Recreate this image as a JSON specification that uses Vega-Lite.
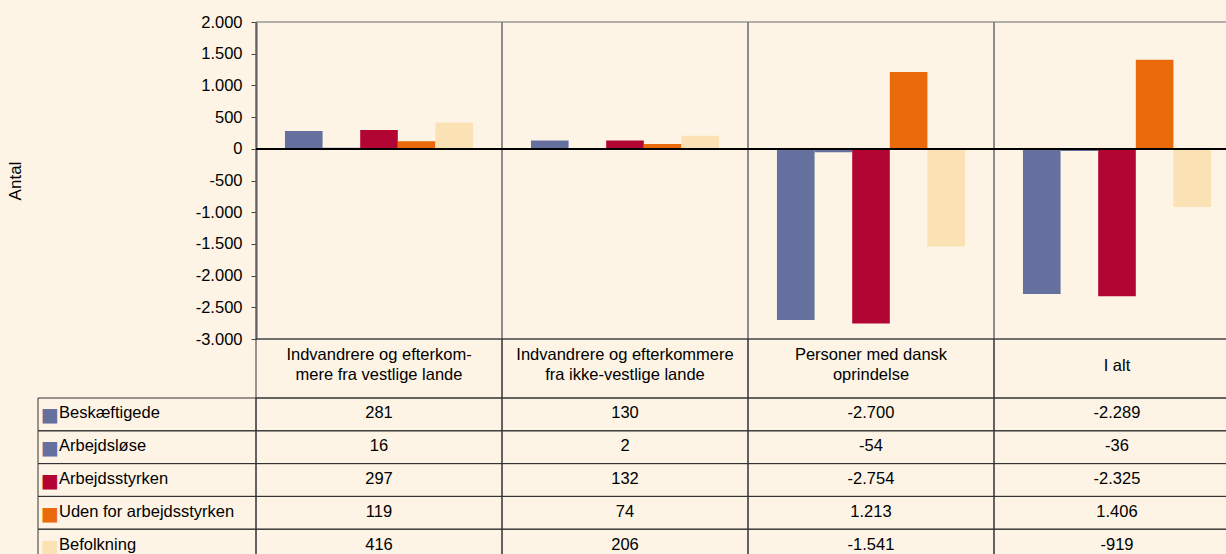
{
  "$schema": "https://vega.github.io/schema/vega-lite/v6.json",
  "autosize": {"type": "none"},
  "padding": {"left": 256, "top": 22, "right": 0, "bottom": 0},
  "width": 970,
  "height": 532,
  "background": "#FDF4E6",
  "config": {
    "view": {"stroke": null},
    "font": "Liberation Sans",
    "locale": {"number": {"decimal": ",", "thousands": ".", "grouping": [3], "currency": ["", " kr."], "minus": "-"}}
  },
  "datasets": {
    "values": [
      {"cat": "Vestlige", "series": "Beskæftigede", "value": 281},
      {"cat": "Vestlige", "series": "Arbejdsløse", "value": 16},
      {"cat": "Vestlige", "series": "Arbejdsstyrken", "value": 297},
      {"cat": "Vestlige", "series": "Uden for arbejdsstyrken", "value": 119},
      {"cat": "Vestlige", "series": "Befolkning", "value": 416},
      {"cat": "Ikke-vestlige", "series": "Beskæftigede", "value": 130},
      {"cat": "Ikke-vestlige", "series": "Arbejdsløse", "value": 2},
      {"cat": "Ikke-vestlige", "series": "Arbejdsstyrken", "value": 132},
      {"cat": "Ikke-vestlige", "series": "Uden for arbejdsstyrken", "value": 74},
      {"cat": "Ikke-vestlige", "series": "Befolkning", "value": 206},
      {"cat": "Dansk", "series": "Beskæftigede", "value": -2700},
      {"cat": "Dansk", "series": "Arbejdsløse", "value": -54},
      {"cat": "Dansk", "series": "Arbejdsstyrken", "value": -2754},
      {"cat": "Dansk", "series": "Uden for arbejdsstyrken", "value": 1213},
      {"cat": "Dansk", "series": "Befolkning", "value": -1541},
      {"cat": "I alt", "series": "Beskæftigede", "value": -2289},
      {"cat": "I alt", "series": "Arbejdsløse", "value": -36},
      {"cat": "I alt", "series": "Arbejdsstyrken", "value": -2325},
      {"cat": "I alt", "series": "Uden for arbejdsstyrken", "value": 1406},
      {"cat": "I alt", "series": "Befolkning", "value": -919}
    ],
    "cats": [
      {"cat": "Vestlige", "label": "Indvandrere og efterkom-\nmere fra vestlige lande", "lines": 2},
      {"cat": "Ikke-vestlige", "label": "Indvandrere og efterkommere\nfra ikke-vestlige lande", "lines": 2},
      {"cat": "Dansk", "label": "Personer med dansk\noprindelse", "lines": 2},
      {"cat": "I alt", "label": "I alt", "lines": 1}
    ],
    "series": [
      {"series": "Beskæftigede"},
      {"series": "Arbejdsløse"},
      {"series": "Arbejdsstyrken"},
      {"series": "Uden for arbejdsstyrken"},
      {"series": "Befolkning"}
    ]
  },
  "layer": [
    {
      "data": {"name": "values"},
      "layer": [
        {
          "data": {"name": "cats"},
          "mark": {"type": "rect", "fillOpacity": 0, "stroke": "#6b6b6b", "strokeWidth": 1},
          "encoding": {
            "x": {"field": "cat", "type": "nominal", "scale": {"domain": ["Vestlige", "Ikke-vestlige", "Dansk", "I alt"], "range": [0, 984], "paddingInner": 0, "paddingOuter": 0}, "axis": null},
            "y": {"datum": 2000, "type": "quantitative", "scale": {"domain": [-3000, 2000], "range": [317, 0], "nice": false, "zero": false},
              "axis": {"values": [-3000, -2500, -2000, -1500, -1000, -500, 0, 500, 1000, 1500, 2000], "format": ",.0f", "grid": false, "tickSize": 5, "tickColor": "#444", "labelPadding": 9, "labelFontSize": 16.5, "labelColor": "#000", "domainColor": "#555", "domainWidth": 2, "title": "Antal", "titleFontSize": 17, "titleFontWeight": "normal", "titleColor": "#000", "titleX": -232}},
            "y2": {"datum": -3000}
          }
        },
        {
          "mark": {"type": "bar"},
          "encoding": {
            "x": {"field": "cat", "type": "nominal", "scale": {"domain": ["Vestlige", "Ikke-vestlige", "Dansk", "I alt"], "range": [0, 984], "paddingInner": 0, "paddingOuter": 0}, "axis": null},
            "xOffset": {"field": "series", "type": "nominal", "scale": {"domain": ["Beskæftigede", "Arbejdsløse", "Arbejdsstyrken", "Uden for arbejdsstyrken", "Befolkning"], "paddingInner": 0, "paddingOuter": 0.77}},
            "y": {"field": "value", "type": "quantitative"},
            "color": {"field": "series", "type": "nominal", "scale": {"domain": ["Beskæftigede", "Arbejdsløse", "Arbejdsstyrken", "Uden for arbejdsstyrken", "Befolkning"], "range": ["#66709E", "#66709E", "#B30534", "#EA6A0B", "#FBE2B5"]}, "legend": null}
          }
        },
        {
          "mark": {"type": "rule", "color": "#000", "strokeWidth": 1.5},
          "encoding": {"y": {"datum": 0, "type": "quantitative"}}
        }
      ]
    },
    {
      "data": {"name": "cats"},
      "layer": [
        {
          "mark": {"type": "rect", "fillOpacity": 0, "stroke": "#333", "strokeWidth": 1},
          "encoding": {
            "x": {"field": "cat", "type": "nominal", "scale": {"domain": ["Vestlige", "Ikke-vestlige", "Dansk", "I alt"], "range": [0, 984], "paddingInner": 0, "paddingOuter": 0}, "axis": null},
            "y": {"datum": "header", "type": "nominal", "scale": {"domain": ["header"], "range": [317, 376], "paddingInner": 0, "paddingOuter": 0}, "axis": null}
          }
        },
        {
          "transform": [{"filter": "datum.lines == 2"}],
          "mark": {"type": "text", "fontSize": 16.5, "lineBreak": "\n", "lineHeight": 20, "color": "#000", "baseline": "middle", "dy": -14},
          "encoding": {
            "x": {"field": "cat", "type": "nominal", "scale": {"domain": ["Vestlige", "Ikke-vestlige", "Dansk", "I alt"], "range": [0, 984], "paddingInner": 0, "paddingOuter": 0}, "axis": null},
            "y": {"datum": "header", "type": "nominal", "scale": {"domain": ["header"], "range": [317, 376], "paddingInner": 0, "paddingOuter": 0}, "axis": null},
            "text": {"field": "label"}
          }
        },
        {
          "transform": [{"filter": "datum.lines == 1"}],
          "mark": {"type": "text", "fontSize": 16.5, "color": "#000", "baseline": "middle", "dy": -3},
          "encoding": {
            "x": {"field": "cat", "type": "nominal", "scale": {"domain": ["Vestlige", "Ikke-vestlige", "Dansk", "I alt"], "range": [0, 984], "paddingInner": 0, "paddingOuter": 0}, "axis": null},
            "y": {"datum": "header", "type": "nominal", "scale": {"domain": ["header"], "range": [317, 376], "paddingInner": 0, "paddingOuter": 0}, "axis": null},
            "text": {"field": "label"}
          }
        }
      ]
    },
    {
      "data": {"name": "values"},
      "layer": [
        {
          "mark": {"type": "rect", "fillOpacity": 0, "stroke": "#333", "strokeWidth": 1},
          "encoding": {
            "x": {"field": "cat", "type": "nominal", "scale": {"domain": ["Vestlige", "Ikke-vestlige", "Dansk", "I alt"], "range": [0, 984], "paddingInner": 0, "paddingOuter": 0}, "axis": null},
            "y": {"field": "series", "type": "nominal", "scale": {"domain": ["Beskæftigede", "Arbejdsløse", "Arbejdsstyrken", "Uden for arbejdsstyrken", "Befolkning"], "range": [376, 540], "paddingInner": 0, "paddingOuter": 0}, "axis": null}
          }
        },
        {
          "mark": {"type": "text", "fontSize": 16.5, "color": "#000", "baseline": "middle", "dy": -1},
          "encoding": {
            "x": {"field": "cat", "type": "nominal", "scale": {"domain": ["Vestlige", "Ikke-vestlige", "Dansk", "I alt"], "range": [0, 984], "paddingInner": 0, "paddingOuter": 0}, "axis": null},
            "y": {"field": "series", "type": "nominal", "scale": {"domain": ["Beskæftigede", "Arbejdsløse", "Arbejdsstyrken", "Uden for arbejdsstyrken", "Befolkning"], "range": [376, 540], "paddingInner": 0, "paddingOuter": 0}, "axis": null},
            "text": {"field": "value", "type": "quantitative", "format": ","}
          }
        }
      ]
    },
    {
      "data": {"name": "series"},
      "layer": [
        {
          "mark": {"type": "rect", "fillOpacity": 0, "stroke": "#333", "strokeWidth": 1},
          "encoding": {
            "x": {"datum": "legend", "type": "nominal", "scale": {"domain": ["legend"], "range": [-218, 0], "paddingInner": 0, "paddingOuter": 0}, "axis": null},
            "y": {"field": "series", "type": "nominal", "scale": {"domain": ["Beskæftigede", "Arbejdsløse", "Arbejdsstyrken", "Uden for arbejdsstyrken", "Befolkning"], "range": [376, 540], "paddingInner": 0, "paddingOuter": 0}, "axis": null}
          }
        },
        {
          "mark": {"type": "text", "fontSize": 19, "font": "DejaVu Sans", "align": "left", "baseline": "middle", "dx": 3, "dy": 1},
          "encoding": {
            "x": {"datum": "legend", "type": "nominal", "bandPosition": 0, "scale": {"domain": ["legend"], "range": [-218, 0], "paddingInner": 0, "paddingOuter": 0}, "axis": null},
            "y": {"field": "series", "type": "nominal", "scale": {"domain": ["Beskæftigede", "Arbejdsløse", "Arbejdsstyrken", "Uden for arbejdsstyrken", "Befolkning"], "range": [376, 540], "paddingInner": 0, "paddingOuter": 0}, "axis": null},
            "color": {"field": "series", "type": "nominal", "legend": null},
            "text": {"value": "■"}
          }
        },
        {
          "mark": {"type": "text", "fontSize": 16.5, "color": "#000", "align": "left", "baseline": "middle", "dx": 21, "dy": -1},
          "encoding": {
            "x": {"datum": "legend", "type": "nominal", "bandPosition": 0, "scale": {"domain": ["legend"], "range": [-218, 0], "paddingInner": 0, "paddingOuter": 0}, "axis": null},
            "y": {"field": "series", "type": "nominal", "scale": {"domain": ["Beskæftigede", "Arbejdsløse", "Arbejdsstyrken", "Uden for arbejdsstyrken", "Befolkning"], "range": [376, 540], "paddingInner": 0, "paddingOuter": 0}, "axis": null},
            "text": {"field": "series"}
          }
        }
      ]
    }
  ],
  "resolve": {"scale": {"x": "independent", "y": "independent"}}
}
